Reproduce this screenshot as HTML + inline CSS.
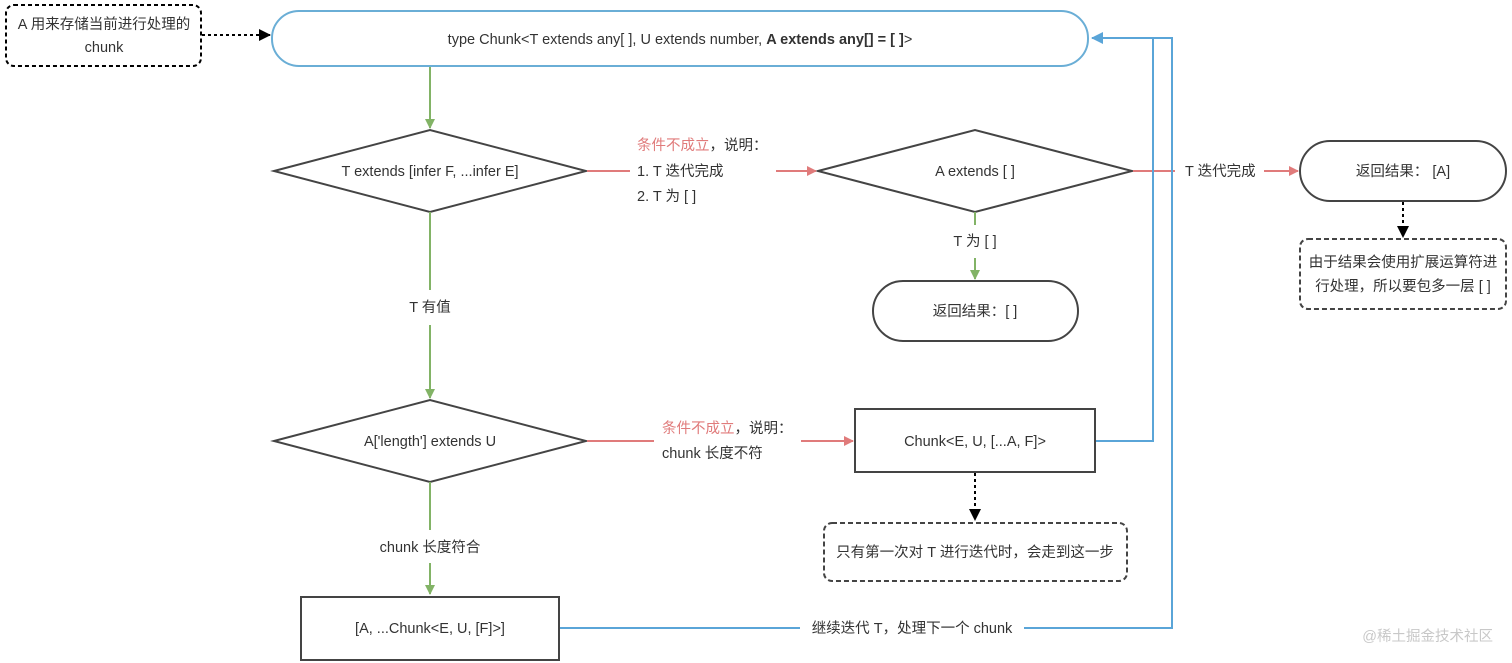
<!DOCTYPE html>
<html><head><meta charset="utf-8"><style>
html,body{margin:0;padding:0;background:#fff;}
svg{display:block;}
text{font-family:"Liberation Sans","Noto Sans CJK SC",sans-serif;font-size:14.5px;fill:#333;}
</style></head><body>
<svg width="1512" height="663" viewBox="0 0 1512 663" xmlns="http://www.w3.org/2000/svg">
<defs>
<marker id="ag" markerWidth="10" markerHeight="10" refX="9" refY="5" orient="auto" markerUnits="userSpaceOnUse"><path d="M0,0 L10,5 L0,10 z" fill="#82b366"/></marker>
<marker id="ar" markerWidth="10" markerHeight="10" refX="9" refY="5" orient="auto" markerUnits="userSpaceOnUse"><path d="M0,0 L10,5 L0,10 z" fill="#e07b7b"/></marker>
<marker id="ab" markerWidth="12" markerHeight="12" refX="11" refY="6" orient="auto" markerUnits="userSpaceOnUse"><path d="M0,0 L12,6 L0,12 z" fill="#5aa5d8"/></marker>
<marker id="ak" markerWidth="12" markerHeight="12" refX="11" refY="6" orient="auto" markerUnits="userSpaceOnUse"><path d="M0,0 L12,6 L0,12 z" fill="#000"/></marker>
</defs>
<g fill="none" stroke-width="2">
<rect x="272" y="11" width="816" height="55" rx="27" stroke="#6aaed6"/>
<rect x="6" y="5" width="195" height="61" rx="8" stroke="#000" stroke-dasharray="4,3"/>
<line x1="202" y1="35" x2="270" y2="35" stroke="#000" stroke-dasharray="3,3" marker-end="url(#ak)"/>
<polygon points="274,171 430,130 586,171 430,212" stroke="#444"/>
<polygon points="818,171 975,130 1132,171 975,212" stroke="#444"/>
<polygon points="274,441 430,400 586,441 430,482" stroke="#444"/>
<line x1="430" y1="67" x2="430" y2="128" stroke="#82b366" marker-end="url(#ag)"/>
<line x1="430" y1="212" x2="430" y2="290" stroke="#82b366"/>
<line x1="430" y1="325" x2="430" y2="398" stroke="#82b366" marker-end="url(#ag)"/>
<line x1="430" y1="482" x2="430" y2="530" stroke="#82b366"/>
<line x1="430" y1="563" x2="430" y2="594" stroke="#82b366" marker-end="url(#ag)"/>
<line x1="975" y1="212" x2="975" y2="225" stroke="#82b366"/>
<line x1="975" y1="258" x2="975" y2="279" stroke="#82b366" marker-end="url(#ag)"/>
<line x1="587" y1="171" x2="630" y2="171" stroke="#e07b7b"/>
<line x1="776" y1="171" x2="816" y2="171" stroke="#e07b7b" marker-end="url(#ar)"/>
<line x1="1133" y1="171" x2="1175" y2="171" stroke="#e07b7b"/>
<line x1="1264" y1="171" x2="1298" y2="171" stroke="#e07b7b" marker-end="url(#ar)"/>
<line x1="587" y1="441" x2="654" y2="441" stroke="#e07b7b"/>
<line x1="801" y1="441" x2="853" y2="441" stroke="#e07b7b" marker-end="url(#ar)"/>
<rect x="873" y="281" width="205" height="60" rx="30" stroke="#444"/>
<rect x="1300" y="141" width="206" height="60" rx="30" stroke="#444"/>
<line x1="1403" y1="202" x2="1403" y2="237" stroke="#000" stroke-dasharray="3,3" marker-end="url(#ak)"/>
<rect x="1300" y="239" width="206" height="70" rx="8" stroke="#444" stroke-dasharray="5,3"/>
<rect x="855" y="409" width="240" height="63" stroke="#444"/>
<line x1="975" y1="473" x2="975" y2="520" stroke="#000" stroke-dasharray="3,3" marker-end="url(#ak)"/>
<rect x="824" y="523" width="303" height="58" rx="8" stroke="#444" stroke-dasharray="5,3"/>
<rect x="301" y="597" width="258" height="63" stroke="#444"/>
<polyline points="1096,441 1153,441 1153,38" stroke="#5aa5d8"/>
<polyline points="560,628 800,628" stroke="#5aa5d8"/>
<polyline points="1024,628 1172,628 1172,38 1092,38" stroke="#5aa5d8" marker-end="url(#ab)"/>
</g>
<text x="104" y="29" text-anchor="middle">A 用来存储当前进行处理的</text>
<text x="104" y="52" text-anchor="middle">chunk</text>
<text x="680" y="44" text-anchor="middle" font-size="13.5">type Chunk&lt;T extends any[ ], U extends number, <tspan font-weight="bold">A extends any[] = [ ]</tspan>&gt;</text>
<text x="430" y="176" text-anchor="middle">T extends [infer F, ...infer E]</text>
<text x="975" y="176" text-anchor="middle">A extends [ ]</text>
<text x="430" y="446" text-anchor="middle">A['length'] extends U</text>
<text x="637" y="150"><tspan fill="#e07b7b">条件不成立</tspan>，说明：</text>
<text x="637" y="176">1. T 迭代完成</text>
<text x="637" y="201">2. T 为 [ ]</text>
<text x="1185" y="176">T 迭代完成</text>
<text x="975" y="246" text-anchor="middle">T 为 [ ]</text>
<text x="975" y="316" text-anchor="middle">返回结果：[ ]</text>
<text x="1403" y="176" text-anchor="middle">返回结果： [A]</text>
<text x="1403" y="267" text-anchor="middle">由于结果会使用扩展运算符进</text>
<text x="1403" y="291" text-anchor="middle">行处理，所以要包多一层 [ ]</text>
<text x="430" y="312" text-anchor="middle">T 有值</text>
<text x="662" y="433"><tspan fill="#e07b7b">条件不成立</tspan>，说明：</text>
<text x="662" y="458">chunk 长度不符</text>
<text x="975" y="446" text-anchor="middle">Chunk&lt;E, U, [...A, F]&gt;</text>
<text x="975" y="557" text-anchor="middle">只有第一次对 T 进行迭代时，会走到这一步</text>
<text x="430" y="552" text-anchor="middle">chunk 长度符合</text>
<text x="430" y="633" text-anchor="middle">[A, ...Chunk&lt;E, U, [F]&gt;]</text>
<text x="912" y="633" text-anchor="middle">继续迭代 T，处理下一个 chunk</text>
<text x="1493" y="641" text-anchor="end" font-size="17" style="fill:#c8c8c8">@稀土掘金技术社区</text>
</svg>
</body></html>
